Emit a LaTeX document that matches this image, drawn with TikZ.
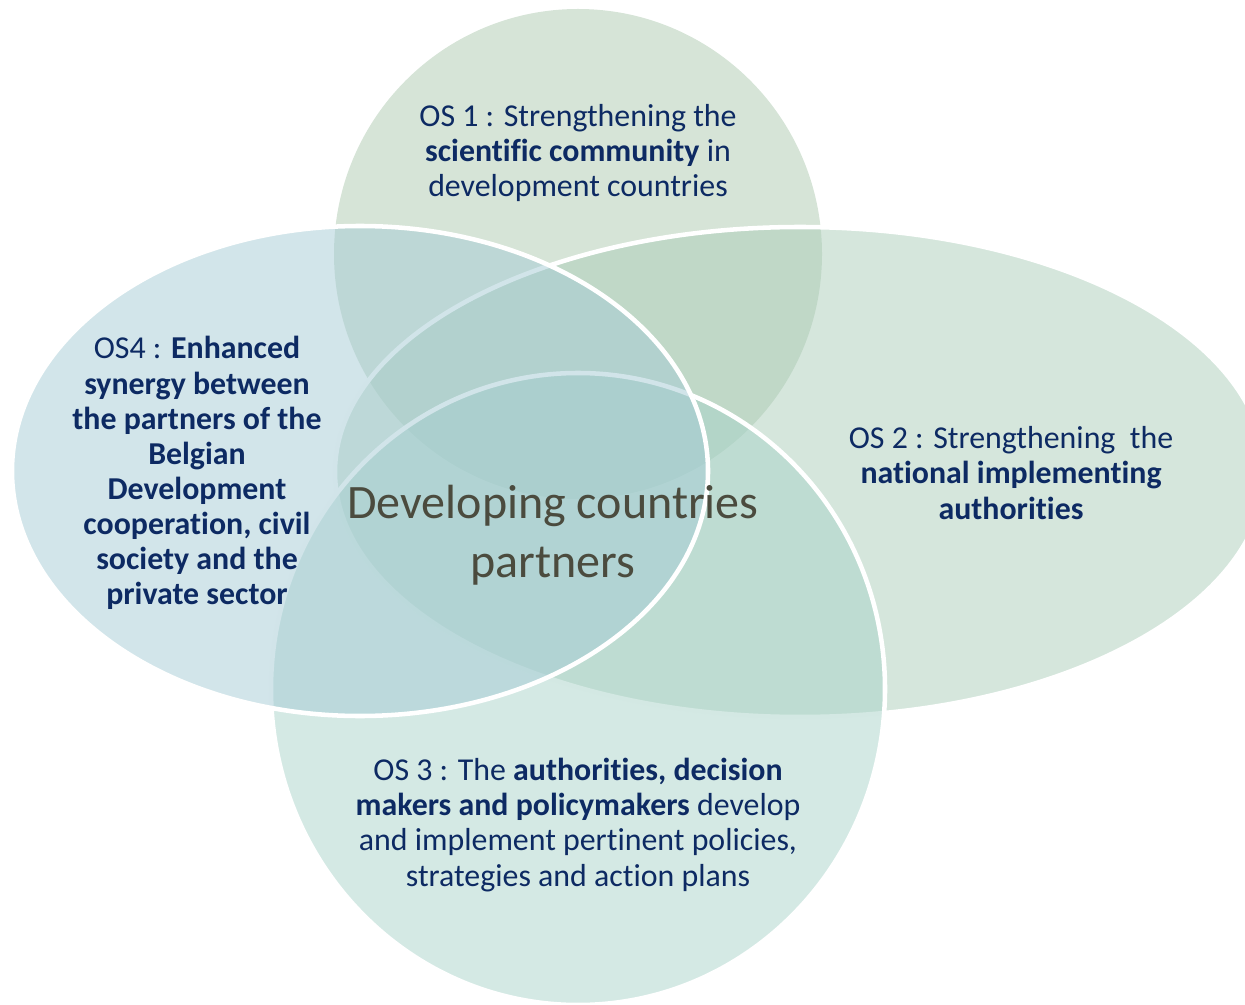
\documentclass[tikz,border=0pt]{standalone}
\usepackage{fontspec}
\setmainfont{Carlito}[Ligatures=NoCommon]
\definecolor{cTop}{HTML}{ADC9AF}
\definecolor{cLeft}{HTML}{A5CBD5}
\definecolor{cRight}{HTML}{ABCDB9}
\definecolor{cBottom}{HTML}{A9D3C9}
\definecolor{navy}{HTML}{0D2A63}
\definecolor{olive}{HTML}{4B4B3E}
\begin{document}
\begin{tikzpicture}[x=0.75pt,y=-0.75pt,
  vennfill/.style={fill=#1, fill opacity=0.5},
  vennline/.style={draw=white, line width=3.4pt},
  ostext/.style={align=center, text=navy, inner sep=0pt, font=\fontsize{23.9}{26.3}\selectfont},
  centretext/.style={align=center, text=olive, inner sep=0pt, font=\fontsize{36}{44.2}\selectfont}]
\useasboundingbox (0,0) rectangle (1245,1005);
% top circle (OS1)
\path[vennfill=cTop] (578,254) ellipse [x radius=244, y radius=245];
% right ellipse (OS2)
\path[vennfill=cRight, vennline] (800,472) ellipse [x radius=465, y radius=245];
% bottom circle (OS3)
\path[vennfill=cBottom, vennline] (578,689) ellipse [x radius=307, y radius=316];
% left ellipse (OS4)
\path[vennfill=cLeft, vennline] (360,471) ellipse [x radius=348, y radius=245];
% texts
\node[ostext] (os1) at (578,153) {OS 1 : Strengthening the\\\textbf{scientific community} in\\development countries};
\node[ostext] (os2) at (1011,473) {OS 2 : Strengthening\ \ the\\\textbf{national implementing}\\\textbf{authorities}};
\node[ostext] (os3) at (578,825) {OS 3 : The \textbf{authorities, decision}\\\textbf{makers and policymakers} develop\\and implement pertinent policies,\\strategies and action plans};
\node[ostext] (os4) at (197,473) {OS4 : \textbf{Enhanced}\\\textbf{synergy between}\\\textbf{the partners of the}\\\textbf{Belgian}\\\textbf{Development}\\\textbf{cooperation, civil}\\\textbf{society and the}\\\textbf{private sector}};
\node[centretext] (centre) at (553,535) {Developing countries\\partners};
\end{tikzpicture}
\end{document}
